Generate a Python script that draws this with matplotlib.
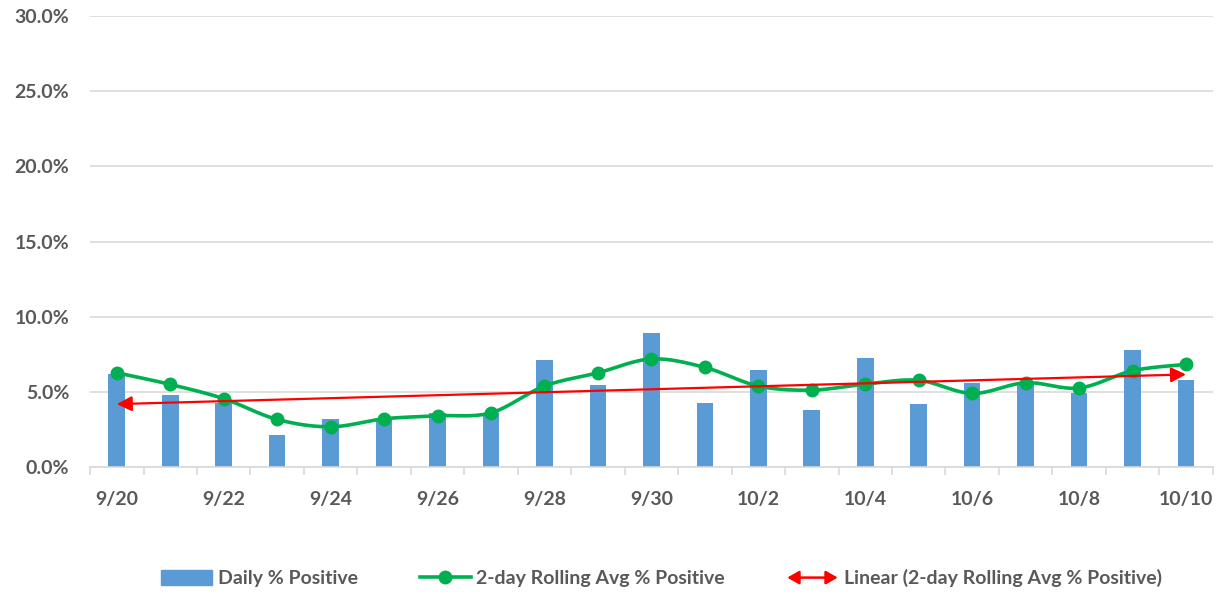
import numpy as np
import matplotlib.pyplot as plt
from matplotlib.patches import FancyArrowPatch, Patch
from matplotlib.lines import Line2D
from matplotlib.legend_handler import HandlerBase
from matplotlib.ticker import FuncFormatter, MultipleLocator, FixedLocator

plt.rcParams['font.family'] = ['Lato', 'DejaVu Sans']

dates = ['9/20', '9/21', '9/22', '9/23', '9/24', '9/25', '9/26', '9/27', '9/28', '9/29', '9/30',
         '10/1', '10/2', '10/3', '10/4', '10/5', '10/6', '10/7', '10/8', '10/9', '10/10']
daily = [6.19, 4.79, 4.24, 2.11, 3.17, 3.17, 3.61, 3.61, 7.12, 5.43, 8.89,
         4.28, 6.45, 3.79, 7.23, 4.19, 5.59, 5.63, 4.92, 7.76, 5.77]
rolling = [6.27, 5.50, 4.55, 3.17, 2.68, 3.21, 3.41, 3.61, 5.39, 6.27, 7.19,
           6.63, 5.39, 5.12, 5.52, 5.77, 4.90, 5.61, 5.26, 6.41, 6.83]

blue = '#5B9BD5'
green = '#00B050'
red = '#FF0000'
txt = '#595959'
grid = '#D9D9D9'

x = np.arange(len(dates))


def smooth(xs, ys, n=20):
    # excel-like smoothed line (catmull-rom bezier)
    px = np.concatenate([[xs[0]], xs, [xs[-1]]])
    py = np.concatenate([[ys[0]], ys, [ys[-1]]])
    outx, outy = [], []
    t = np.linspace(0, 1, n)
    for i in range(1, len(px) - 2):
        p0 = np.array([px[i], py[i]])
        p3 = np.array([px[i + 1], py[i + 1]])
        c1 = p0 + (p3 - np.array([px[i - 1], py[i - 1]])) / 6
        c2 = p3 - (np.array([px[i + 2], py[i + 2]]) - p0) / 6
        pts = ((1 - t) ** 3)[:, None] * p0 + (3 * (1 - t) ** 2 * t)[:, None] * c1 \
            + (3 * (1 - t) * t ** 2)[:, None] * c2 + (t ** 3)[:, None] * p3
        outx.extend(pts[:, 0])
        outy.extend(pts[:, 1])
    return np.array(outx), np.array(outy)


class ArrowHandler(HandlerBase):
    def create_artists(self, legend, orig, xd, yd, width, height, fontsize, trans):
        a = FancyArrowPatch((-xd, height / 2 - yd), (-xd + width, height / 2 - yd),
                            arrowstyle='<|-|>,head_length=0.7,head_width=0.4',
                            mutation_scale=10, color=red, lw=1.8, transform=trans,
                            shrinkA=0, shrinkB=0)
        return [a]


fig = plt.figure(figsize=(12.25, 5.95), dpi=100)
ax = fig.add_axes([0.0735, 0.215, 0.9165, 0.758])

ax.bar(x, daily, width=0.31, color=blue, zorder=2)

sx, sy = smooth(x.astype(float), np.array(rolling))
ax.plot(sx, sy, color=green, lw=2.6, zorder=3)
ax.plot(x, rolling, 'o', color=green, ms=9, zorder=3)

coef = np.polyfit(x, rolling, 1)
y0, y1 = np.polyval(coef, x[0]), np.polyval(coef, x[-1])
arr = FancyArrowPatch((x[0], y0), (x[-1], y1),
                      arrowstyle='<|-|>,head_length=0.9,head_width=0.45',
                      mutation_scale=10, color=red, lw=1.6, zorder=4,
                      shrinkA=0, shrinkB=0)
ax.add_patch(arr)

ax.set_xlim(-0.5, len(dates) - 0.5)
ax.set_ylim(0, 30)
ax.yaxis.set_major_locator(MultipleLocator(5))
ax.yaxis.set_major_formatter(FuncFormatter(lambda v, p: f'{v:.1f}%'))
ax.grid(axis='y', color=grid, lw=1.2, zorder=0)
ax.set_axisbelow(True)

ax.set_xticks(x[::2])
ax.set_xticklabels(dates[::2])
ax.xaxis.set_minor_locator(FixedLocator(np.arange(-0.5, len(dates), 1)))
ax.tick_params(axis='x', which='major', length=0, pad=17)
ax.tick_params(axis='x', which='minor', length=6, color=grid, width=1.2)
ax.tick_params(axis='y', length=0, pad=15)
for lab in ax.get_xticklabels() + ax.get_yticklabels():
    lab.set_fontsize(14)
    lab.set_fontweight('bold')
    lab.set_color(txt)

for s in ['top', 'right', 'left']:
    ax.spines[s].set_visible(False)
ax.spines['bottom'].set_color(grid)
ax.spines['bottom'].set_linewidth(1.2)

handles = [Patch(color=blue),
           Line2D([], [], color=green, lw=2.6, marker='o', ms=9),
           Patch(color=red)]
labels = ['Daily % Positive', '2-day Rolling Avg % Positive', 'Linear (2-day Rolling Avg % Positive)']
leg = fig.legend(handles, labels, loc='center', bbox_to_anchor=(0.54, 0.028), ncol=3,
                 frameon=False, handlelength=2.6, handleheight=0.8, handletextpad=0.3,
                 columnspacing=3.2, handler_map={handles[2]: ArrowHandler()},
                 prop={'size': 14, 'weight': 'bold'})
for t in leg.get_texts():
    t.set_color(txt)

fig.savefig('out.png', dpi=100)
